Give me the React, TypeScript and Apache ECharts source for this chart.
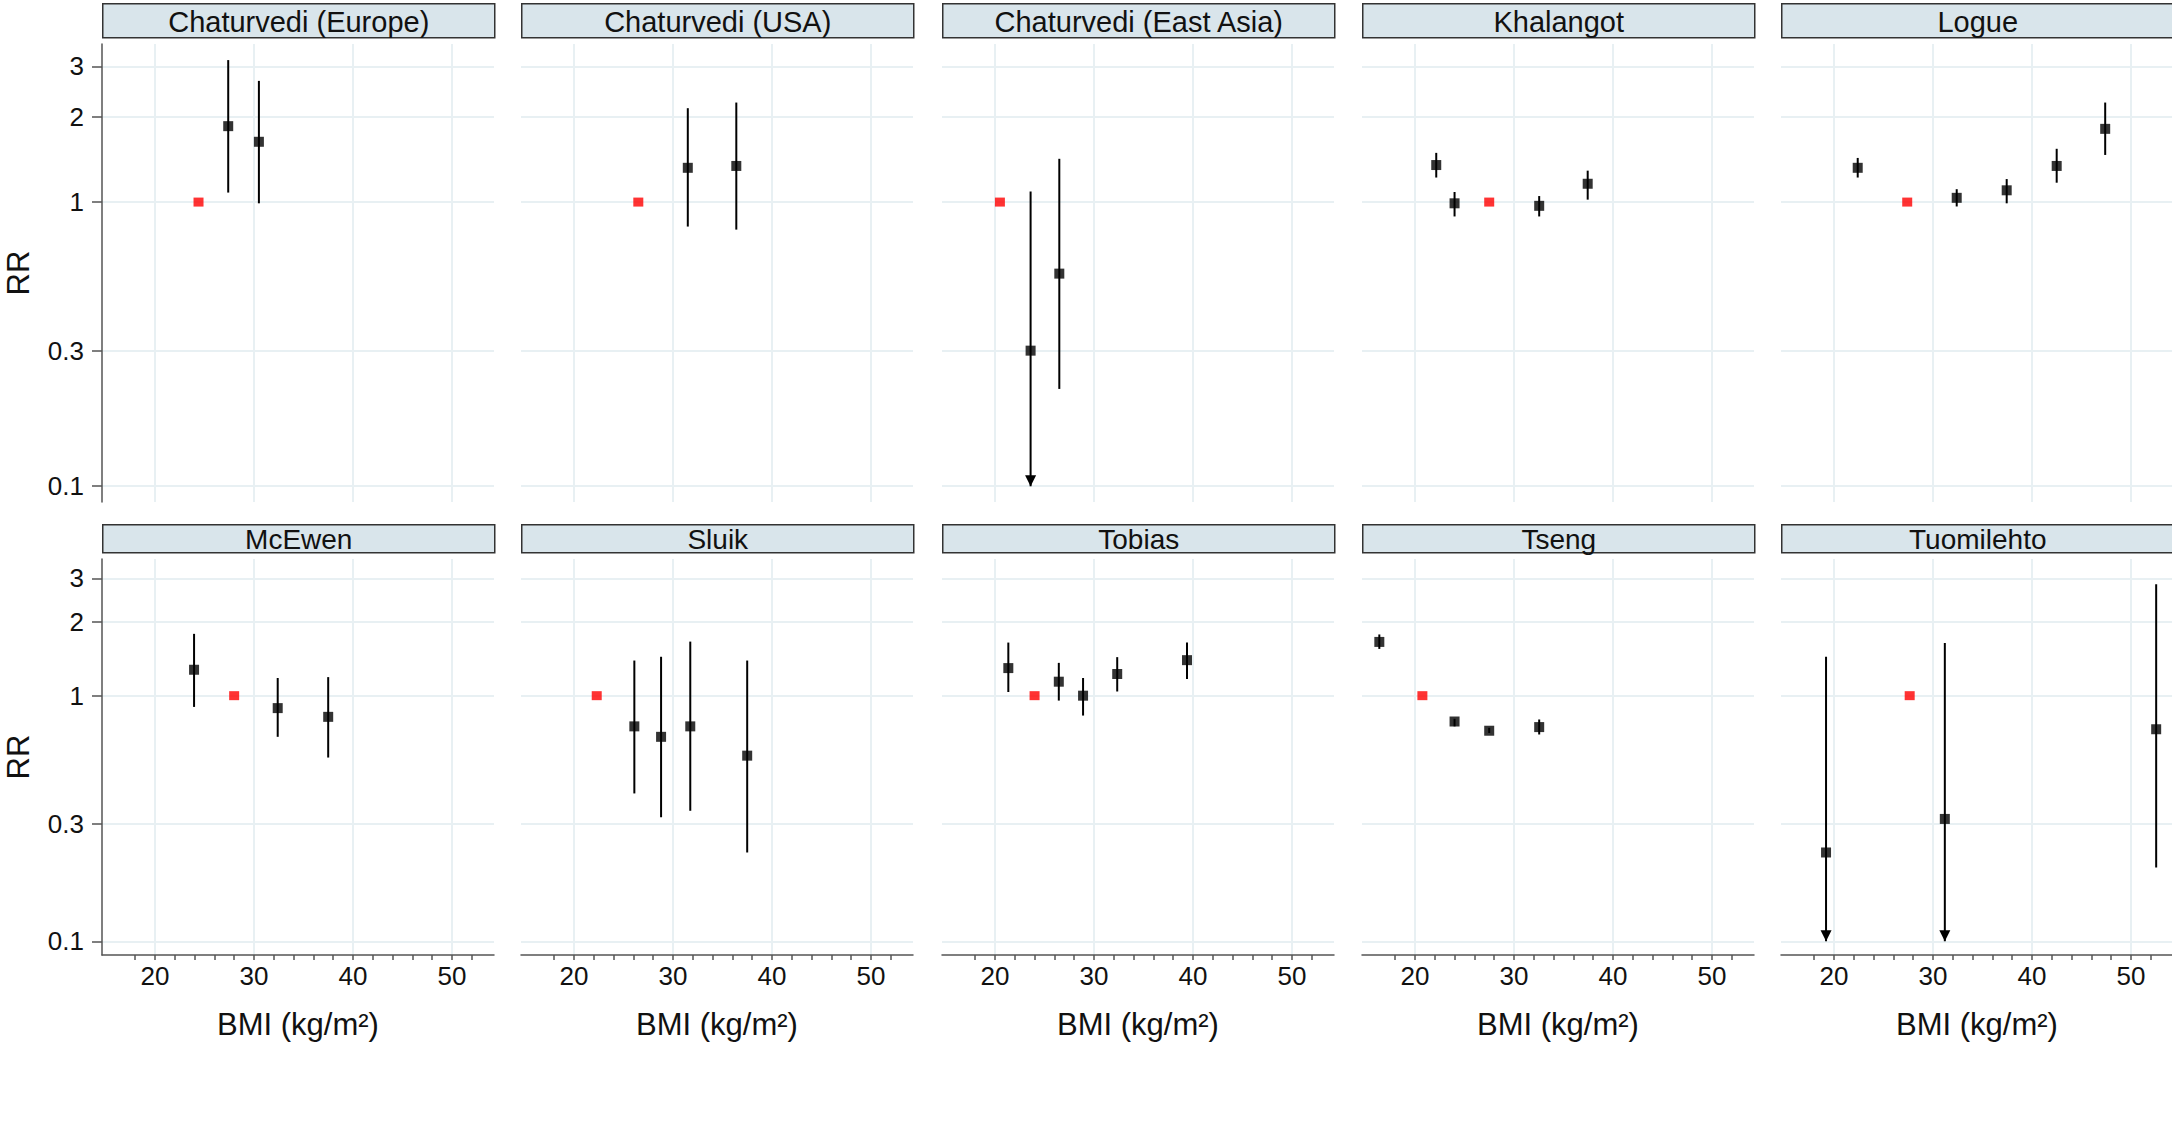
import React, { useEffect, useRef } from "react";
import * as echarts from "echarts";

// ---------- Data ----------
// Each study: reference category BMI (red square, RR = 1) and points [BMI, RR, lowerCI, upperCI]
const studyNames = [
  "Chaturvedi (Europe)",
  "Chaturvedi (USA)",
  "Chaturvedi (East Asia)",
  "Khalangot",
  "Logue",
  "McEwen",
  "Sluik",
  "Tobias",
  "Tseng",
  "Tuomilehto",
];

const refBmi = [24.4, 26.5, 20.5, 27.5, 27.4, 28.0, 22.3, 24.0, 20.75, 27.65];

const chaturvediEurope = [
  [27.4, 1.85, 1.08, 3.16],
  [30.5, 1.63, 0.99, 2.67],
];
const chaturvediUSA = [
  [31.5, 1.32, 0.82, 2.14],
  [36.4, 1.34, 0.8, 2.24],
];
const chaturvediEastAsia = [
  [23.6, 0.3, 0.1, 1.09],
  [26.5, 0.56, 0.22, 1.42],
];
const khalangot = [
  [22.15, 1.35, 1.22, 1.49],
  [24.0, 0.99, 0.89, 1.085],
  [32.55, 0.97, 0.89, 1.05],
  [37.45, 1.16, 1.02, 1.29],
];
const logue = [
  [22.4, 1.32, 1.22, 1.43],
  [32.4, 1.035, 0.965, 1.11],
  [37.45, 1.1, 0.99, 1.205],
  [42.5, 1.34, 1.17, 1.54],
  [47.4, 1.81, 1.465, 2.24],
];
const mcEwen = [
  [23.95, 1.275, 0.9, 1.785],
  [32.4, 0.89, 0.68, 1.18],
  [37.5, 0.82, 0.56, 1.19],
];
const sluik = [
  [26.1, 0.75, 0.4, 1.39],
  [28.8, 0.68, 0.32, 1.44],
  [31.75, 0.75, 0.34, 1.66],
  [37.5, 0.57, 0.23, 1.39],
];
const tobias = [
  [21.35, 1.295, 1.035, 1.645],
  [26.45, 1.14, 0.955, 1.36],
  [28.9, 1.0, 0.83, 1.18],
  [32.35, 1.225, 1.04, 1.435],
  [39.4, 1.395, 1.17, 1.645],
];
const tseng = [
  [16.4, 1.655, 1.55, 1.775],
  [24.0, 0.785, 0.75, 0.805],
  [27.5, 0.72, 0.705, 0.74],
  [32.55, 0.745, 0.695, 0.8],
];
const tuomilehto = [
  [19.2, 0.23, 0.1, 1.44],
  [31.2, 0.315, 0.1, 1.64],
  [52.55, 0.73, 0.2, 2.84],
];

const studyPoints = [
  chaturvediEurope,
  chaturvediUSA,
  chaturvediEastAsia,
  khalangot,
  logue,
  mcEwen,
  sluik,
  tobias,
  tseng,
  tuomilehto,
];

const yTickValues = [0.1, 0.3, 1, 2, 3];
const xGridValues = [20, 30, 40, 50];
const xTickValues = [18, 20, 22, 24, 26, 28, 30, 32, 34, 36, 38, 40, 42, 44, 46, 48, 50, 52];
const Y_MIN = 0.088;
const Y_MAX = 3.6;
const X_MIN = 14.65;
const X_MAX = 54.25;
const LOWER_CLIP = 0.1; // CIs truncated at this value are drawn with an arrow

// ---------- Layout ----------
const FONT = "'Liberation Sans', Arial, sans-serif";
const colLeft = [102, 521, 942, 1362, 1781];
const PANEL_W = 392;
const rowGridTop = [44, 559];
const rowGridH = [458, 396];
const rowStripTop = [3, 524];
const rowStripH = [34, 28];
const rowStripFont = [29, 28];
const GRID_COLOR = "#e8f0f3";
const AXIS_COLOR = "#555555";

export default function App() {
  const ref = useRef<HTMLDivElement>(null);

  useEffect(() => {
    if (!ref.current) return;
    const chart = echarts.init(ref.current, undefined, { renderer: "svg" });

    const grids: any[] = [];
    const xAxes: any[] = [];
    const yAxes: any[] = [];
    const series: any[] = [];
    const graphics: any[] = [];

    studyNames.forEach((name, i) => {
      const row = Math.floor(i / 5);
      const col = i % 5;
      const isBottom = row === 1;
      const isLeft = col === 0;

      grids.push({
        left: colLeft[col],
        top: rowGridTop[row],
        width: PANEL_W,
        height: rowGridH[row],
        containLabel: false,
        outerBoundsMode: "none",
      });

      xAxes.push({
        type: "value",
        gridIndex: i,
        min: X_MIN,
        max: X_MAX,
        name: isBottom ? "BMI (kg/m²)" : "",
        nameLocation: "middle",
        nameGap: 54,
        nameTextStyle: { fontSize: 31, color: "#111", fontFamily: FONT },
        axisLine: { show: isBottom, lineStyle: { color: AXIS_COLOR, width: 1.5 } },
        axisTick: {
          show: isBottom,
          customValues: xTickValues,
          length: 5,
          lineStyle: { color: AXIS_COLOR, width: 1.5 },
        },
        axisLabel: {
          show: isBottom,
          customValues: xGridValues,
          fontSize: 26,
          color: "#111",
          fontFamily: FONT,
          margin: 8,
        },
        splitLine: { show: false },
      });

      yAxes.push({
        type: "log",
        logBase: 10,
        gridIndex: i,
        min: Y_MIN,
        max: Y_MAX,
        name: isLeft ? "RR" : "",
        nameLocation: "middle",
        nameGap: 68,
        nameTextStyle: { fontSize: 31, color: "#111", fontFamily: FONT },
        axisLine: { show: isLeft, lineStyle: { color: AXIS_COLOR, width: 1.5 } },
        axisTick: {
          show: isLeft,
          customValues: yTickValues,
          length: 10,
          lineStyle: { color: AXIS_COLOR, width: 1.5 },
        },
        axisLabel: {
          show: isLeft,
          customValues: yTickValues,
          fontSize: 26,
          color: "#111",
          fontFamily: FONT,
          margin: 18,
          formatter: (v: number) => String(+Number(v).toFixed(2)),
        },
        splitLine: { show: false },
      });

      const pts = studyPoints[i];

      // gridlines (placed through the axes' own scales)
      series.push({
        type: "scatter",
        xAxisIndex: i,
        yAxisIndex: i,
        data: [],
        z: 0,
        silent: true,
        markLine: {
          silent: true,
          z: 0,
          symbol: "none",
          label: { show: false },
          emphasis: { disabled: true },
          lineStyle: { color: GRID_COLOR, width: 2, type: "solid" },
          data: [
            ...yTickValues.map((v) => ({ yAxis: v })),
            ...xGridValues.map((v) => ({ xAxis: v })),
          ],
        },
      });

      // confidence intervals
      series.push({
        type: "custom",
        xAxisIndex: i,
        yAxisIndex: i,
        z: 6,
        silent: true,
        data: pts.map((p) => [p[0], p[2], p[3]]),
        encode: { x: 0, y: [1, 2] },
        renderItem: (params: any, api: any) => {
          const x = api.value(0);
          const lo = api.value(1);
          const hi = api.value(2);
          const top = api.coord([x, hi]);
          const bot = api.coord([x, Math.max(lo, LOWER_CLIP)]);
          const children: any[] = [
            {
              type: "line",
              shape: { x1: top[0], y1: top[1], x2: bot[0], y2: bot[1] },
              style: { stroke: "#000", lineWidth: 2 },
            },
          ];
          if (lo <= LOWER_CLIP) {
            children.push({
              type: "polygon",
              shape: {
                points: [
                  [bot[0] - 5.5, bot[1] - 11],
                  [bot[0] + 5.5, bot[1] - 11],
                  [bot[0], bot[1]],
                ],
              },
              style: { fill: "#000" },
            });
          }
          return { type: "group", children };
        },
      });

      // point estimates
      series.push({
        type: "scatter",
        xAxisIndex: i,
        yAxisIndex: i,
        z: 7,
        symbol: "rect",
        symbolSize: [10, 10],
        itemStyle: { color: "#000" },
        data: pts.map((p) => [p[0], p[1]]),
      });

      // reference category
      series.push({
        type: "scatter",
        xAxisIndex: i,
        yAxisIndex: i,
        z: 7,
        symbol: "rect",
        symbolSize: [10, 9],
        itemStyle: { color: "#ff0000" },
        data: [[refBmi[i], 1]],
      });

      // facet strip
      graphics.push({
        type: "group",
        left: colLeft[col],
        top: rowStripTop[row],
        children: [
          {
            type: "rect",
            shape: { x: 0, y: 0, width: PANEL_W, height: rowStripH[row] },
            style: { fill: "#d9e5eb", stroke: "#333", lineWidth: 1.5 },
          },
          {
            type: "text",
            x: PANEL_W / 2,
            y: rowStripH[row] / 2 + 1,
            style: {
              text: name,
              fontSize: rowStripFont[row],
              fontFamily: FONT,
              fill: "#111",
              align: "center",
              verticalAlign: "middle",
            },
          },
        ],
      });
    });

    chart.setOption({
      animation: false,
      backgroundColor: "#ffffff",
      textStyle: { fontFamily: FONT },
      grid: grids,
      xAxis: xAxes,
      yAxis: yAxes,
      series,
      graphic: graphics,
    });

    return () => chart.dispose();
  }, []);

  return (
    <div
      ref={ref}
      style={{ position: "fixed", left: 0, top: 0, width: 2172, height: 1123, background: "#fff" }}
    />
  );
}
